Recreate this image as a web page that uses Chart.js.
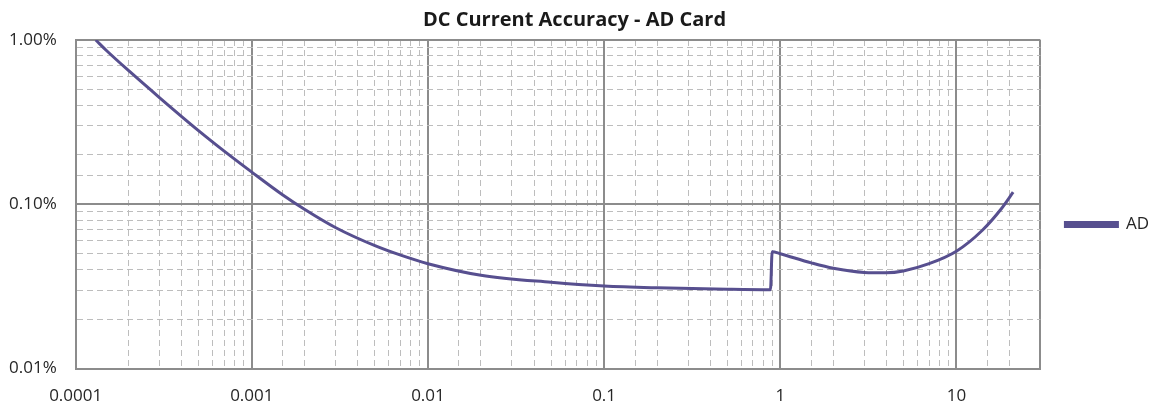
<!DOCTYPE html>
<html>
<head>
<meta charset="utf-8">
<script src="https://cdn.jsdelivr.net/npm/chart.js@4.4.1/dist/chart.umd.min.js"></script>
<style>
  html, body { margin: 0; padding: 0; background: #fff; }
  #wrap { width: 1154px; height: 404px; }
</style>
</head>
<body>
<div id="wrap"><canvas id="accuracyChart"></canvas></div>
<script>
// current (A) vs accuracy (%)
const currents = [0.00013, 0.00015, 0.0002, 0.0003, 0.0005, 0.0007, 0.001, 0.0015, 0.002, 0.003,
                  0.005, 0.007, 0.01, 0.02, 0.05, 0.1, 0.2, 0.5, 0.88, 0.9,
                  1, 1.5, 2, 3, 4, 5, 7, 10, 14, 18, 21];
const accuracyAD = [1.0, 0.86, 0.65, 0.445, 0.28, 0.21, 0.157, 0.114, 0.093, 0.072,
                    0.056, 0.049, 0.0435, 0.037, 0.0335, 0.0318, 0.031, 0.0304, 0.0302, 0.0515,
                    0.05, 0.044, 0.0408, 0.0385, 0.0383, 0.0393, 0.0435, 0.0518, 0.0693, 0.094, 0.1185];
const xRange = [0.0001, 30];
const yRange = [0.01, 1];

const isPow10 = v => Math.abs(Math.log10(v) - Math.round(Math.log10(v))) < 1e-6;
const lineColor = '#574f8f';
const majorGrid = '#8c8c8c';
const minorGrid = '#bdbdbd';
const labelFont = { family: 'Open Sans', size: 17 };

function isMajor(ctx, max) {
    if (!ctx.tick) return true;
    const v = ctx.tick.value;
    return isPow10(v) || v >= max * 0.999;
}

document.addEventListener('DOMContentLoaded', function() {
    const ctx = document.getElementById('accuracyChart').getContext('2d');
    new Chart(ctx, {
        type: 'scatter',
        data: {
            datasets: [{
                label: 'AD',
                data: currents.map((c, i) => ({ x: c, y: accuracyAD[i] })),
                showLine: true,
                borderColor: lineColor,
                backgroundColor: lineColor,
                borderWidth: 3,
                pointRadius: 0,
                cubicInterpolationMode: 'monotone'
            }]
        },
        options: {
            responsive: true,
            maintainAspectRatio: false,
            animation: false,
            layout: { padding: { left: -10, right: -5, top: 0, bottom: -19 } },
            plugins: {
                title: {
                    display: true,
                    text: 'DC Current Accuracy - AD Card',
                    color: '#1a1a1a',
                    font: { family: 'Open Sans', size: 20, weight: 'bold' },
                    padding: { top: 8, bottom: 8 }
                },
                legend: {
                    position: 'right',
                    title: { display: true, text: ' ', font: { size: 15 }, padding: { top: 4, bottom: 4 } },
                    labels: {
                        boxWidth: 52,
                        boxHeight: 4,
                        padding: 25,
                        color: '#262626',
                        font: labelFont
                    }
                },
                tooltip: { enabled: false }
            },
            scales: {
                x: {
                    type: 'logarithmic',
                    min: xRange[0],
                    max: xRange[1],
                    grid: {
                        drawTicks: false,
                        color: c => isMajor(c, xRange[1]) ? majorGrid : minorGrid,
                        lineWidth: c => isMajor(c, xRange[1]) ? 2 : 1
                    },
                    border: { display: true, color: majorGrid, width: 2, dash: c => isMajor(c, xRange[1]) ? [] : [6, 4] },
                    ticks: {
                        autoSkip: false,
                        maxRotation: 0,
                        padding: 17,
                        color: '#262626',
                        font: labelFont,
                        callback: function(value) {
                            if (!isPow10(value)) return '';
                            const e = Math.round(Math.log10(value));
                            return e < 0 ? value.toFixed(-e) : String(Math.round(value));
                        }
                    }
                },
                y: {
                    type: 'logarithmic',
                    min: yRange[0],
                    max: yRange[1],
                    grid: {
                        drawTicks: false,
                        color: c => isMajor(c, yRange[1]) ? majorGrid : minorGrid,
                        lineWidth: c => isMajor(c, yRange[1]) ? 2 : 1
                    },
                    border: { display: true, color: majorGrid, width: 2, dash: c => isMajor(c, yRange[1]) ? [] : [6, 4] },
                    ticks: {
                        autoSkip: false,
                        padding: 19,
                        color: '#262626',
                        font: labelFont,
                        callback: function(value) {
                            return isPow10(value) ? value.toFixed(2) + '%' : '';
                        }
                    }
                }
            }
        }
    });
});
</script>
</body>
</html>
